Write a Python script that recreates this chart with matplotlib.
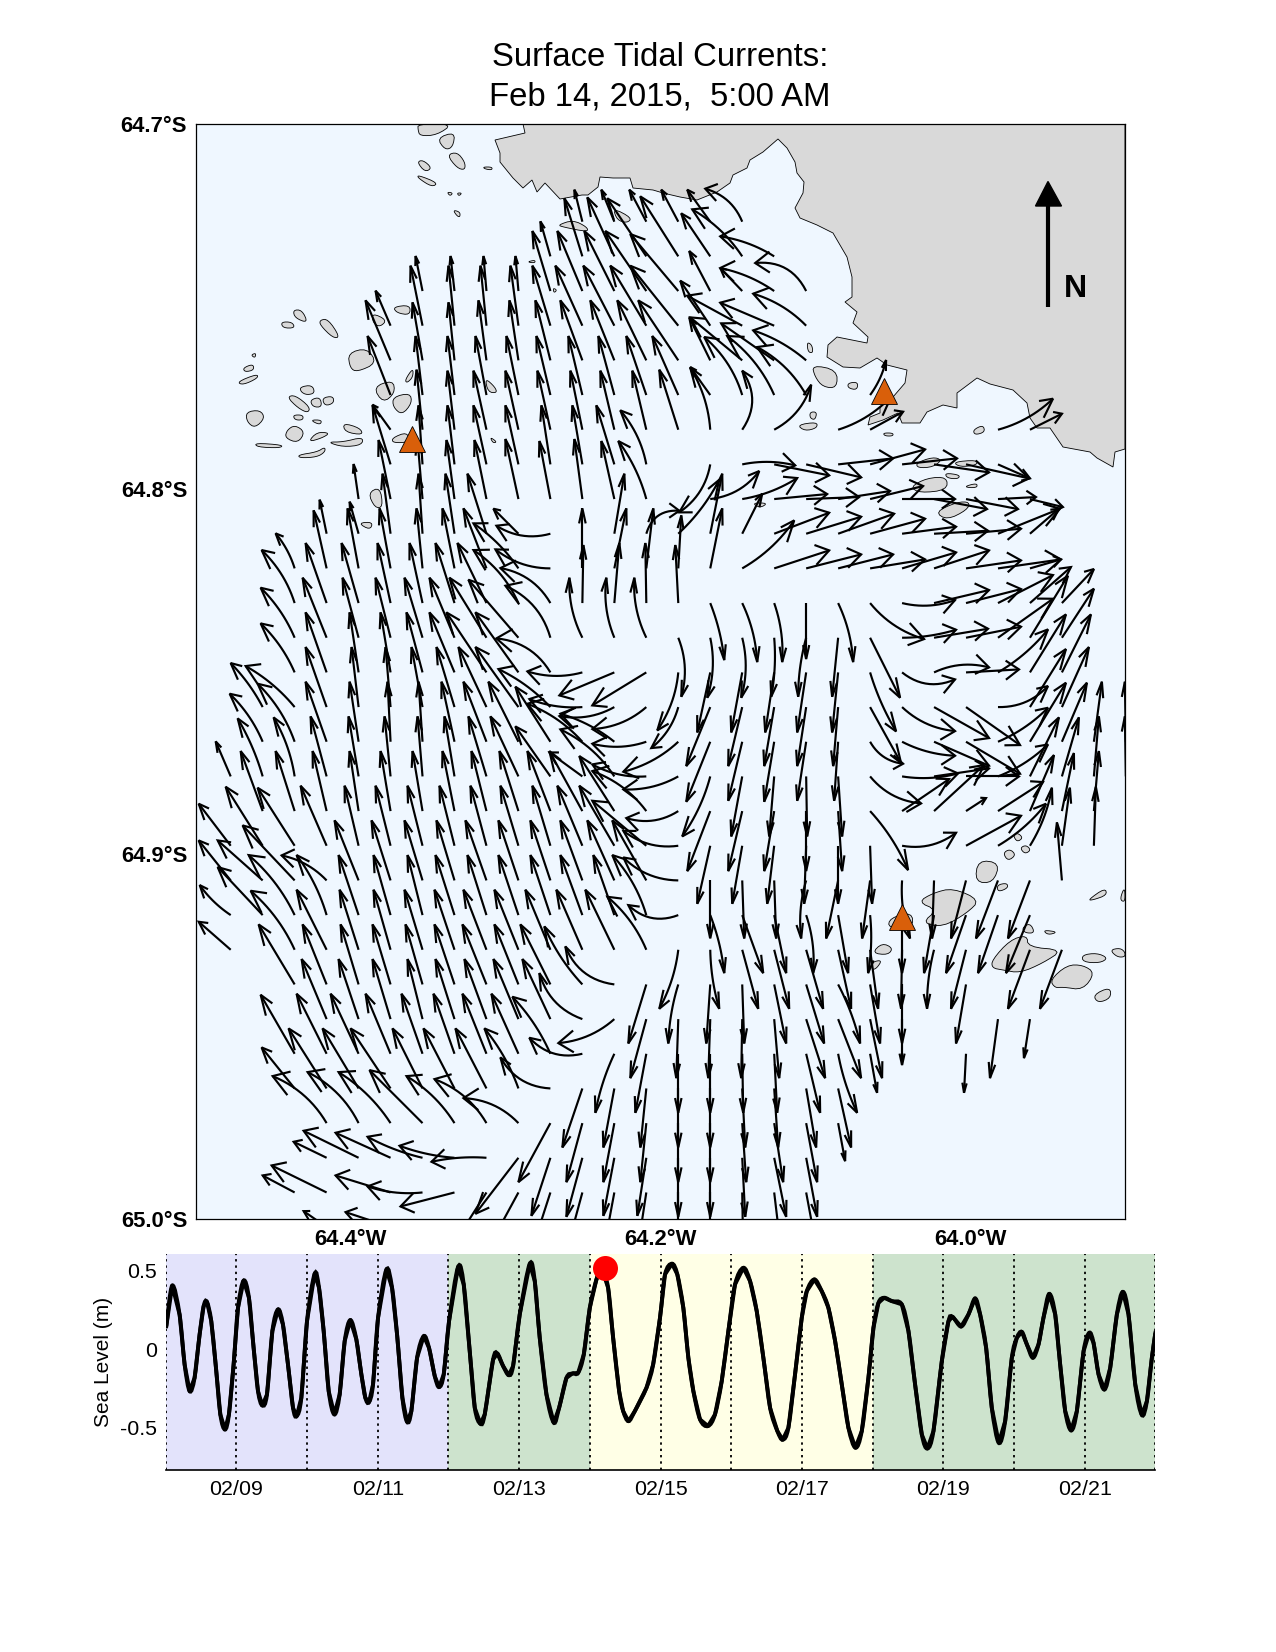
import numpy as np
import matplotlib
matplotlib.use("Agg")
import matplotlib.pyplot as plt
import matplotlib.dates as mdates
from matplotlib.collections import LineCollection
from matplotlib.patches import PathPatch
from matplotlib.path import Path
from matplotlib.ticker import FixedLocator, FixedFormatter, NullLocator
import datetime as dt

plt.rcParams['font.family'] = ['Liberation Sans', 'DejaVu Sans']

W, H = 1276, 1652
TITLE = ["Surface Tidal Currents:", "Feb 14, 2015,  5:00 AM"]

# ---- tide record: days after 02/08 and sea level (m)
tide_t = [.01,.094,.198,.269,.34,.41,.481,.538,.585,.646,.708,.774,.84,.896,.962,1.024,1.104,1.179,1.245,1.307,1.368,1.434,1.51,1.59,1.66,1.731,1.802,1.854,1.92,2.0,2.108,2.17,2.236,2.307,2.387,2.462,2.533,2.613,2.698,2.769,2.825,2.877,2.934,3.005,3.123,3.203,3.274,3.349,3.415,3.476,3.557,3.651,3.726,3.807,3.868,3.934,4.009,4.137,4.217,4.302,4.373,4.453,4.514,4.632,4.693,4.774,4.854,4.915,5.009,5.151,5.222,5.292,5.387,5.491,5.566,5.67,5.755,5.835,5.915,6.0,6.094,6.165,6.259,6.33,6.415,6.472,6.547,6.637,6.802,6.896,6.993,7.064,7.163,7.238,7.323,7.394,7.465,7.559,7.672,7.771,7.866,7.96,8.054,8.172,8.267,8.361,8.455,8.55,8.653,8.729,8.809,8.903,8.998,9.069,9.177,9.281,9.375,9.47,9.564,9.658,9.757,9.847,9.941,10.012,10.083,10.163,10.271,10.413,10.507,10.601,10.696,10.776,10.861,10.979,11.073,11.13,11.252,11.356,11.45,11.521,11.606,11.686,11.785,11.875,11.969,12.04,12.111,12.182,12.267,12.347,12.417,12.498,12.583,12.653,12.724,12.809,12.889,12.984,13.064,13.125,13.196,13.281,13.361,13.455,13.54,13.62,13.715,13.809,13.88,13.95,14.0]
tide_v = [.146,.405,.22,-.098,-.268,-.183,.093,.274,.301,.178,-.098,-.416,-.512,-.416,-.098,.263,.437,.327,.008,-.268,-.359,-.289,.115,.253,.157,-.098,-.374,-.427,-.31,.178,.48,.391,.115,-.268,-.416,-.289,.051,.185,.062,-.161,-.31,-.338,-.225,.2,.507,.391,.093,-.31,-.463,-.395,-.055,.083,.008,-.172,-.242,-.161,.178,.524,.412,-.013,-.374,-.476,-.416,-.066,-.028,-.108,-.166,-.108,.221,.544,.433,.072,-.289,-.469,-.374,-.183,-.155,-.151,-.034,.263,.444,.518,.391,.072,-.268,-.395,-.459,-.395,-.246,-.098,.2,.476,.544,.476,.263,-.055,-.268,-.448,-.49,-.416,-.204,.115,.412,.518,.433,.242,-.055,-.374,-.522,-.577,-.501,-.161,.2,.369,.444,.369,.263,.051,-.225,-.501,-.628,-.522,-.183,.136,.295,.327,.306,.285,.115,-.225,-.544,-.633,-.522,-.076,.178,.206,.144,.221,.323,.221,.008,-.374,-.597,-.459,-.055,.072,.11,.03,-.055,.03,.2,.352,.221,-.098,-.395,-.518,-.395,-.013,.104,.04,-.161,-.257,-.119,.221,.365,.221,-.225,-.42,-.331,-.055,.104]
now_t, now_v = 6.208, .514
period_edges = [0, 4, 6, 10, 14]
period_colors = ['#e3e3fb', '#cde3cd', '#ffffe6', '#cde3cd']
tide_ticks = [-0.5, 0, 0.5]
tide_ticklabels = ['-0.5', '0', '0.5']
date_labels = ['02/09', '02/11', '02/13', '02/15', '02/17', '02/19', '02/21']

# ---- map labels
lon_ticks = [-64.4, -64.2, -64.0]
lon_labels = ['64.4°W', '64.2°W', '64.0°W']
lat_ticks = [-64.7, -64.8, -64.9, -65.0]
lat_labels = ['64.7°S', '64.8°S', '64.9°S', '65.0°S']

# ---- current vectors, one list per grid row, north to south: (column, east, north[, bend])
r00 = [(11,-8,32),(12,-13,32),(13,-17,32),(14,-17,32),(15,-23,32),(16,-37,33,-6)]
r01 = [(10,-10,35),(11,-18,58),(12,-27,59),(13,-39,58),(14,-38,60),(15,-29,43),(16,-50,47,-4),(17,-54,20,-3)]
r02 = [(6,-7,35),(7,-4,35),(8,-3,35),(9,-3,35),(10,-18,60),(11,-25,60),(12,-30,60),(13,-41,60),(14,-48,57),(15,-21,40),(16,-22,23),(17,-54,23,-3),(18,-51,28,-10)]
r03 = [(5,-15,35),(6,-12,60),(7,-6,60),(8,-6,60),(9,-8,60),(10,-18,60),(11,-27,60),(12,-31,60),(13,-36,60),(14,-48,60),(15,-30,45),(16,-55,30),(17,-54,23),(18,-53,32,-4)]
r04 = [(5,-25,60),(6,-10,58),(7,-6,58),(8,-8,60),(9,-9,60),(10,-15,60),(11,-22,60),(12,-24,60),(13,-29,60),(14,-40,60),(15,-21,43),(16,-52,43),(17,-53,37),(18,-53,30,-3)]
r05 = [(5,-23,59),(6,-7,59),(7,-7,59),(8,-11,59),(9,-12,59),(10,-14,59),(11,-14,59),(12,-16,59),(13,-20,59),(14,-26,59),(15,-20,28),(16,-38,58,-5),(17,-47,59,-5),(18,-49,48,-5),(20,16,35,-2)]
r06 = [(5,-18,25),(6,-6,60),(7,-7,59),(8,-13,59),(9,-13,59),(10,-13,59),(11,-12,59),(12,-14,59),(13,-14,59),(14,-19,60),(15,-20,62,-4),(16,0,59,-10),(17,37,45,-6),(19,53,33,-4),(20,33,18),(24,55,31,-4),(25,32,16)]
r07 = [(5,-18,59),(6,-4,59),(7,-7,59),(8,-13,59),(9,-13,59),(10,-9,59),(11,-10,59),(12,-18,59),(13,-26,54,-4),(15,-31,-48,6),(16,53,-1,3),(17,55,-11),(18,55,-13),(19,55,6),(20,55,15),(21,55,6),(22,55,-8),(23,63,-14),(24,32,-14)]
r08 = [(4,-5,35),(5,-12,59),(6,-5,59),(7,-8,59),(8,-12,59),(9,-13,60),(10,-11,58),(11,-8,60),(12,-13,58),(13,-28,58,-3),(15,49,28,-6),(16,55,21,-3),(17,53,5),(18,53,2),(19,52,8),(20,53,13),(21,53,0),(22,53,-10),(23,52,-10),(24,38,2),(25,33,-8)]
r09 = [(3,-7,34),(4,-9,32),(5,-8,60),(6,-4,60),(7,-9,60),(8,-19,60),(9,-25,25),(10,-54,8,6),(12,10,60),(13,33,23,8),(14,41,54,-3),(15,12,60),(16,20,40),(17,55,21),(18,55,17),(19,56,20),(20,55,15),(21,54,7),(22,54,3),(23,55,5),(24,62,25),(25,29,25)]
r10 = [(2,-19,35,-2),(3,-13,58),(4,-11,60),(5,-11,60),(6,-6,60),(7,-12,60),(8,-23,60),(9,-45,45,-3),(10,-55,19,5),(11,0,60),(12,12,60),(13,7,60),(14,3,53),(15,12,60),(16,52,48,-4),(17,55,18),(18,55,14),(19,55,14),(20,55,9),(21,54,16),(22,55,18),(23,55,8),(24,63,9),(25,31,9)]
r11 = [(2,-33,53,-4),(3,-21,60),(4,-17,60),(5,-13,60),(6,-13,60),(7,-19,60),(8,-29,60),(9,-45,53,-5),(10,-50,35,-7),(11,1,58),(12,5,60),(13,-1,60),(14,-3,58),(15,14,-57,2),(16,15,-59,3),(17,8,-59,3),(18,0,-56),(19,15,-59,3),(20,54,-36,-5),(21,53,3,-4),(22,55,13),(23,55,14),(24,55,28),(25,41,36),(26,32,34)]
r12 = [(2,-34,50,-3),(3,-24,60),(4,-16,60),(5,-15,60),(6,-18,60),(7,-25,60),(8,-37,60),(9,-50,58),(10,-45,52,-8),(11,-13,60,4),(12,-8,60,4),(13,-12,60,4),(14,3,-59,5),(15,-3,-60,4),(16,-1,-60,4),(17,-3,-59,2),(18,-8,-59,-2),(19,-6,-59),(20,30,-60),(21,54,8,-2),(22,54,9),(23,55,11),(24,55,39),(25,38,62),(26,32,49)]
r13 = [(2,-34,49,-3),(3,-21,60),(4,-9,60),(5,-10,60),(6,-16,60),(7,-25,60),(8,-40,60),(9,-43,60),(10,-54,34,-8),(11,-55,1,4),(12,-55,-23),(13,-54,-33),(14,-21,-58,4),(15,-13,-60),(16,-11,-60),(17,-9,-60),(18,-9,-60),(19,-6,-60),(20,26,-59,-2),(21,53,-7,-8),(22,55,5,5),(23,53,3),(24,50,43,-3),(25,36,58),(26,29,58)]
r14 = [(1,-32,44,-2),(2,-49,41,-3),(3,-21,60),(4,-7,60),(5,-5,60),(6,-11,60),(7,-18,60),(8,-28,60),(9,-43,60),(10,-52,38,-3),(11,-53,8,3),(12,-55,-9,5),(13,-54,-22,5),(14,-27,-41,4),(15,-24,-59),(16,-14,-59),(17,-10,-59),(18,-9,-59),(19,-5,-59),(20,31,-56),(21,53,-24,-5),(22,55,-31),(23,54,-38),(24,50,21,-6),(25,36,58),(26,27,60)]
r15 = [(1,-33,48,-3),(2,-37,58,-4),(3,-21,60),(4,-9,60),(5,-3,60),(6,-4,60),(7,-13,60),(8,-23,60),(9,-30,60),(10,-35,55),(11,-55,38,-4),(12,-54,28,-3),(13,-54,-2,4),(14,-55,-30,4),(15,-24,-60),(16,-14,-59),(17,-10,-60),(18,-9,-59),(19,-4,-59),(20,33,-22,-5),(21,53,-14,-3),(22,55,-24),(23,54,-32),(24,50,34,-3),(25,36,59),(26,25,59),(27,8,60),(28,-1,60)]
r16 = [(0,-15,35),(1,-25,58,-2),(2,-21,59,-3),(3,-16,60),(4,-10,60),(5,-6,60),(6,-5,60),(7,-10,60),(8,-18,60),(9,-28,60),(10,-35,50),(11,-33,24),(12,-54,47,-5),(13,-54,12,4),(14,-55,-13,4),(15,-28,-60,3),(16,-11,-60),(17,-5,-60),(18,1,-60),(19,4,-60),(20,51,-27,-6),(21,56,3,-3),(22,55,8),(23,53,0),(24,50,32,-3),(25,29,59),(26,17,59),(27,5,60),(28,-1,60)]
r17 = [(1,-22,60),(2,-19,60),(3,-14,60),(4,-9,60),(5,-10,60),(6,-10,60),(7,-12,60),(8,-15,60),(9,-19,60),(10,-23,60),(11,-33,60),(12,-35,55),(13,-54,40,-5),(14,-52,-7,6),(15,-23,-60),(16,-14,-60),(17,-10,-60),(18,0,-60),(19,4,-60),(20,38,-59,3),(21,47,32),(22,50,46),(23,20,13),(24,45,29),(25,24,56),(26,12,58),(27,5,60)]
r18 = [(0,-32,42),(1,-37,59),(2,-37,58),(3,-26,60),(4,-14,60),(5,-15,60),(6,-15,60),(7,-15,60),(8,-16,60),(9,-18,60),(10,-18,60),(11,-25,60),(12,-35,60),(13,-54,45),(14,-55,15,6),(15,-13,-58),(16,-10,-58),(17,-7,-58),(18,-2,-58),(19,0,-58),(20,2,-58),(21,54,13,-6),(23,55,30),(24,48,42,-3),(25,22,58,-3),(26,8,58),(27,2,59)]
r19 = [(0,-32,40),(1,-45,40),(2,-52,55),(3,-45,25,-4),(4,-24,60),(5,-19,60),(6,-18,60),(7,-18,60),(8,-21,60),(9,-20,60),(10,-20,60),(11,-22,60),(12,-27,60),(13,-34,60),(14,-55,23,6),(15,0,-58),(16,2,-58),(17,2,-58),(18,-5,-58,-3),(19,-12,-58),(20,-8,-58),(21,8,-58,-3),(22,-2,-58),(23,-15,-58),(24,-22,-58),(25,-22,-58),(26,-5,58)]
r20 = [(0,-31,30,2),(1,-45,48),(2,-46,60,-4),(3,-30,60,-3),(4,-20,60),(5,-17,60),(6,-15,60),(7,-19,60),(8,-19,60),(9,-20,60),(10,-20,60),(11,-22,60),(12,-21,60),(13,-34,60,-4),(14,-50,10,8),(15,14,-58,2),(16,21,-58),(17,12,-58),(18,7,-58,3),(19,10,-58),(20,-2,-58,2),(21,0,-58),(22,-10,-58),(23,-20,-58),(24,-20,-58),(25,-24,-58)]
r21 = [(0,-32,28),(2,-44,59,-4),(3,-30,60),(4,-19,60),(5,-17,60),(6,-18,60),(7,-20,60),(8,-23,60),(9,-24,60),(10,-25,60),(11,-26,60),(12,-29,60),(13,-39,53,-4),(14,-19,-59,3),(15,9,-59,-2),(16,16,-59),(17,15,-59),(18,17,-59),(19,13,-59),(20,8,-59),(21,-1,-59),(22,-7,-59,-2),(23,-15,-59),(25,-22,-59),(26,-22,-59)]
r22 = [(2,-36,60),(3,-24,60),(4,-18,60),(5,-18,60),(6,-17,60),(7,-20,60),(8,-24,60),(9,-24,60),(10,-30,60),(11,-38,58,3),(12,-49,38,9),(13,-18,-59),(14,-10,-59,-2),(15,-4,-59),(16,2,-59),(17,12,-59),(18,18,-59),(19,22,-59,2),(20,10,-59),(21,0,-59),(23,-10,-59)]
r23 = [(3,-25,60),(4,-20,60),(5,-18,60),(6,-15,60),(7,-19,60),(8,-22,60),(9,-25,60),(10,-28,60),(11,-43,46,8),(12,-56,-24,5),(13,-16,-59),(14,-2,-59),(15,-2,-59),(16,-1,-59),(17,5,-59),(18,19,-59),(19,23,-59),(20,12,-59),(21,0,-46),(24,-8,-59),(25,-6,-39)]
r24 = [(2,-34,59),(3,-30,60),(4,-28,60),(5,-25,60),(6,-21,60),(7,-21,60),(8,-24,60),(9,-27,60),(10,-38,57,-3),(11,-53,16,8),(12,-19,-59,-2),(13,-11,-59),(14,0,-59),(15,0,-59),(16,1,-59),(17,3,-59),(18,14,-59),(19,19,-59,-2),(20,7,-39),(23,-2,-39)]
r25 = [(2,-33,41),(3,-38,60),(4,-36,60),(5,-40,60),(6,-30,60),(7,-31,60),(8,-31,60),(9,-34,60,-3),(10,-50,31,8),(11,-20,-59),(12,-11,-59),(13,-6,-59),(14,0,-59),(15,0,-59),(16,3,-59),(17,4,-59),(18,10,-59),(19,13,-59)]
r26 = [(3,-54,47,-6),(4,-51,51,-6),(5,-52,51,-4),(6,-53,53),(7,-48,47,-4),(8,-52,44,-6),(9,-55,25,-6),(10,-32,-59),(11,-16,-59),(12,-11,-59),(13,-6,-59),(14,0,-59),(15,0,-59),(16,4,-59),(17,9,-59),(18,11,-59),(19,7,-38)]
r27 = [(3,-33,16),(4,-55,27),(5,-55,25),(6,-55,21,2),(7,-55,12,2),(8,-55,-4,-2),(9,-43,-56),(10,-19,-58),(11,-16,-59),(12,-11,-58),(13,-9,-58),(14,0,-59),(15,0,-59),(16,3,-59),(17,12,-59),(18,11,-59)]
r28 = [(2,-32,17),(3,-55,27),(5,-55,17),(6,-55,6,3),(7,-54,-14),(8,-35,-55),(9,-32,-59),(10,-19,-59),(11,-16,-59),(12,-11,-59),(13,-9,-59),(14,0,-59),(15,0,-59),(16,1,-59),(17,7,-59),(18,11,-59)]
r29 = [(3,-23,16),(5,-45,15)]
vector_rows = [r00,r01,r02,r03,r04,r05,r06,r07,r08,r09,r10,r11,r12,r13,r14,r15,r16,r17,r18,r19,r20,r21,r22,r23,r24,r25,r26,r27,r28,r29]

# ---- shoreline, projected map units (east, south)
mainland = [523,124,525,133,495,140,500,153,500,162,513,178,523,188,532,180,537,192,545,183,560,199,582,195,588,195,598,187,600,177,613,178,630,178,633,188,653,190,663,193,680,197,697,200,717,192,730,183,733,175,747,168,750,160,763,152,778,139,787,148,795,162,797,173,804,182,803,193,795,208,800,218,817,225,833,233,847,257,852,277,852,297,845,302,857,312,853,323,868,337,867,343,837,337,828,345,827,357,843,367,860,368,877,358,887,365,907,370,905,383,893,397,880,407,880,413,870,417,868,425,883,420,898,413,902,423,920,423,927,412,943,405,957,408,957,393,977,378,990,384,1013,390,1027,403,1030,418,1037,428,1050,428,1063,447,1090,452,1097,458,1113,467,1115,452,1125,449,1125,124]
islands = [
 [418,130,420,136,437,135,453,124,418,124],[437,138,455,132,453,147,445,150],[447,155,457,152,465,162,465,170,457,168],
 [417,162,423,160,432,168,425,172],[418,175,438,183,432,187,418,178],[483,167,492,167,492,170,485,169],[447,192,453,193,450,196],[457,193,462,193,459,196],
 [453,210,460,212,460,217,457,216],[558,225,573,220,587,227,588,232,563,227],[613,208,632,218,627,223,617,220],[527,262,535,260,535,263],[553,288,557,290,554,293],
 [293,310,302,310,308,323,295,318],[281,322,292,322,295,328,283,328],[320,320,328,319,340,337,333,338,320,325],[348,353,367,348,377,363,357,372,350,368],[372,313,387,320,380,327,373,323],[393,307,410,305,410,315,397,313],
 [237,382,257,374,258,378,243,385],[243,368,253,364,254,370,245,372],[251,355,256,353,255,358],[300,387,312,385,315,393,307,395,301,392],[287,397,295,395,310,407,308,413,298,408],[310,400,320,397,322,407,313,407],[322,398,333,396,334,403,325,406],
 [246,412,260,410,265,418,255,428,247,422],[287,430,295,425,305,432,298,443,285,438],[308,442,317,432,330,433,322,438],[327,442,343,442,363,437,362,445,343,447],[255,443,283,445,280,448,257,447],[298,455,317,452,325,447,325,452,317,457,300,458],
 [293,415,303,415,303,420,295,420],[310,420,322,420,320,425],[343,423,360,428,363,435,345,432],[393,397,410,393,412,403,402,415,393,407],[373,387,393,380,395,393,383,403],[405,380,413,368,413,377,407,383],[392,438,407,432,410,442,393,443],
 [485,378,495,387,497,393,488,392],[490,437,497,442,493,443],[368,493,380,487,383,507,375,508],[358,523,373,522,370,530],
 [807,342,812,345,813,353,808,352],[812,365,837,370,837,388,823,387,815,377],[848,383,858,382,857,390,848,388],[810,412,817,412,815,420,810,418],[797,425,817,422,817,428,805,431],[883,433,893,433,893,436,885,436],[973,430,983,425,985,432,975,435],
 [916,463,933,457,942,460,933,467,918,468],[953,462,977,460,977,465,960,467],[910,487,927,478,947,477,947,490,920,493],[945,473,960,475,958,479,947,478],[963,487,977,483,977,488],[935,512,957,502,970,502,967,510,947,520],[752,503,768,503,760,508],
 [918,902,933,893,953,888,980,900,967,913,943,927,922,923,937,910],[978,860,1000,863,993,883,975,882],[1003,853,1010,849,1016,855,1008,861],[1020,848,1026,845,1031,850,1025,854],[1013,835,1018,833,1023,838,1017,842],
 [872,953,882,943,893,948,888,955],[872,962,882,960,877,968,872,970],[888,928,890,918,912,912,913,928],[997,885,1007,883,1008,888,998,892],[992,960,1010,940,1027,935,1028,947,1063,950,1043,963,1020,973,1003,970,992,968],
 [1022,928,1030,923,1035,933,1025,933],[1043,930,1058,932,1048,935],[1088,900,1105,888,1107,895,1093,900],[1120,900,1123,890,1125,890,1125,902],[1082,955,1097,953,1108,958,1100,963,1083,962],[1110,950,1120,948,1125,952,1125,957,1117,957],
 [1050,980,1067,965,1083,965,1095,973,1083,990,1063,987,1055,988],[1093,995,1110,987,1111,998,1098,1003]]
# stations, projected map units
station_x = [411.7, 884.5, 902]
station_y = [438.5, 391, 917]

# ---- figure layout
L, R, T, B = 195.5, 1125.0, 124.3, 1219.0
fig = plt.figure(figsize=(W/100, H/100), dpi=100, facecolor='white')
ax = fig.add_axes([L/W, 1-B/H, (R-L)/W, (B-T)/H], facecolor='#eff7ff')
ax.set_xlim(-64.5, -63.9)
ax.set_ylim(-65.0, -64.7)
def X(e): return -64.5 + (np.asarray(e, float) - L) / (R - L) * 0.6
def Y(s): return -64.7 - (np.asarray(s, float) - T) / (B - T) * 0.3

def rounded(a, n=2):
    # round off the corners of a closed outline when drawing it
    for _ in range(n):
        b = np.roll(a, -1, axis=0)
        a = np.column_stack([.75*a + .25*b, .25*a + .75*b]).reshape(-1, 2)
    return a

def poly(flat, smooth=False, **kw):
    a = np.asarray(flat, float).reshape(-1, 2)
    if smooth:
        a = rounded(a)
    ax.fill(X(a[:, 0]), Y(a[:, 1]), **kw)

land = dict(facecolor='#d9d9d9', edgecolor='black', linewidth=0.6, zorder=1)
poly(mainland, **land)
for isl in islands:
    poly(isl, smooth=True, **land)

# vectors
COL0, DCOL, ROW0, DROW = 230.7, 31.97, 221.7, 34.67
segs = []
for j, row in enumerate(vector_rows):
    for item in row:
        k, u, v = item[:3]
        c = item[3] if len(item) > 3 else 0
        x0, y0 = COL0 + k*DCOL, ROW0 + j*DROW
        Ln = np.hypot(u, v)
        nx, ny = -v/Ln, u/Ln
        cx, cy = u/2 + 2*c*nx, v/2 + 2*c*ny
        tt = np.linspace(0, 1, 14)
        px = 2*(1-tt)*tt*cx + tt**2*u
        py = 2*(1-tt)*tt*cy + tt**2*v
        dx, dy = px[-1]-px[-2], py[-1]-py[-2]
        dn = np.hypot(dx, dy)
        dx, dy = dx/dn*Ln, dy/dn*Ln
        hx, hy = px[-1], py[-1]
        b1 = (hx - .25*dx - .055*dy, hy - .25*dy + .18*dx)
        b2 = (hx - .25*dx + .055*dy, hy - .25*dy - .18*dx)
        segs.append(np.column_stack([X(x0+px), Y(y0-py)]))
        segs.append(np.column_stack([X(x0+np.array([b1[0], hx, b2[0]])), Y(y0-np.array([b1[1], hy, b2[1]]))]))
ax.add_collection(LineCollection(segs, colors='black', linewidths=1.55, zorder=3, capstyle='butt', joinstyle='miter'))

# stations
ax.plot(X(station_x), Y(station_y), linestyle='none', marker='^', ms=18.5, mfc='#d95f0a', mec='black', mew=0.6, zorder=5)

# north arrow
ax.plot(X([1048, 1048]), Y([306.7, 205]), color='black', lw=3, solid_capstyle='butt', zorder=4)
ax.fill(X([1035.5, 1048, 1061.5]), Y([206, 181.5, 206]), color='black', zorder=4)
ax.text(X(1075.5), Y(289), 'N', fontsize=23, fontweight='bold', ha='center', va='center', zorder=4)

ax.xaxis.set_major_locator(FixedLocator(lon_ticks))
ax.xaxis.set_major_formatter(FixedFormatter(lon_labels))
ax.yaxis.set_major_locator(FixedLocator(lat_ticks))
ax.yaxis.set_major_formatter(FixedFormatter(lat_labels))
ax.tick_params(length=0, pad=6, labelsize=15.8)
for lab in ax.get_xticklabels() + ax.get_yticklabels():
    lab.set_fontweight('bold')
ax.tick_params(axis='x', pad=7)
for s in ax.spines.values():
    s.set_linewidth(0.9)

fig.text(660/W, 1-57/H, TITLE[0], fontsize=23.7, ha='center', va='center')
fig.text(660/W, 1-97/H, TITLE[1], fontsize=23.7, ha='center', va='center')

# tide panel
TL, TR, TT, TB = 165.6, 1155.4, 1254.0, 1470.0
ax2 = fig.add_axes([TL/W, 1-TB/H, (TR-TL)/W, (TB-TT)/H])
base = mdates.date2num(dt.datetime(2015, 2, 8))
ax2.set_xlim(base, base+14)
ax2.set_ylim(-0.77, 0.606)
for i, col in enumerate(period_colors):
    ax2.axvspan(base+period_edges[i], base+period_edges[i+1], color=col, lw=0, zorder=0)
for d in range(0, 15):
    ax2.axvline(base+d, color='black', lw=1.3, linestyle=(0, (1.3, 2.2)), zorder=1)
tx = base + np.array(tide_t)
tv = np.array(tide_v)
ax2.plot(tx, tv, color='black', lw=2.8, solid_joinstyle='round', zorder=2)
# same readings, stroked through with smooth joins
verts = [(tx[0], tv[0])]
codes = [Path.MOVETO]
for i in range(len(tx)-1):
    i0, i3 = max(i-1, 0), min(i+2, len(tx)-1)
    verts += [(tx[i]+(tx[i+1]-tx[i0])/6, tv[i]+(tv[i+1]-tv[i0])/6),
              (tx[i+1]-(tx[i3]-tx[i])/6, tv[i+1]-(tv[i3]-tv[i])/6),
              (tx[i+1], tv[i+1])]
    codes += [Path.CURVE4]*3
ax2.add_patch(PathPatch(Path(verts, codes), facecolor='none', edgecolor='black', lw=2.8, zorder=3))
ax2.plot([base+now_t], [now_v], marker='o', ms=18, color='#ff0000', mec='none', zorder=4, clip_on=False)
ax2.set_xticks([base+1+2*i for i in range(len(date_labels))])
ax2.xaxis.set_major_formatter(mdates.DateFormatter('%m/%d'))
ax2.xaxis.set_minor_locator(NullLocator())
ax2.set_yticks(tide_ticks)
ax2.set_yticklabels(tide_ticklabels)
ax2.tick_params(length=0, labelsize=15.4)
ax2.tick_params(axis='x', pad=7)
ax2.tick_params(axis='y', pad=6)
ax2.set_ylabel('Sea Level (m)', fontsize=15, labelpad=5)
for name in ['top', 'left', 'right']:
    ax2.spines[name].set_visible(False)
ax2.spines['bottom'].set_linewidth(1.2)

fig.savefig('out.png', dpi=100, facecolor='white')
